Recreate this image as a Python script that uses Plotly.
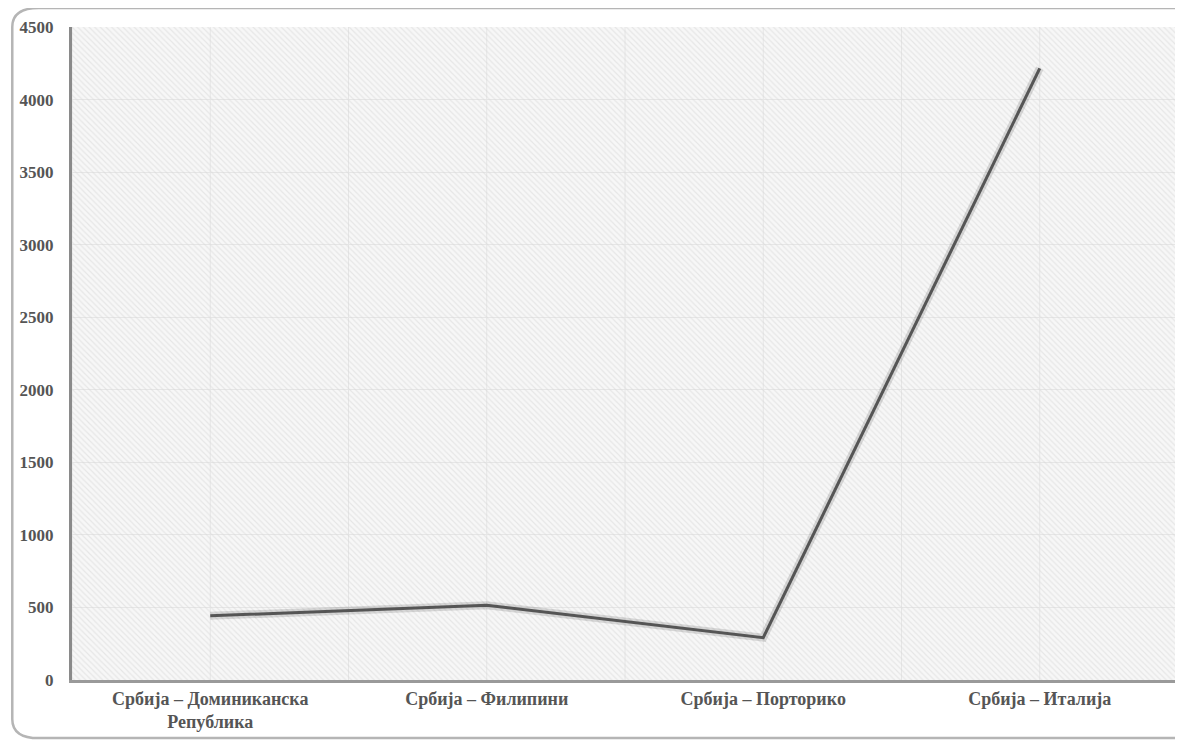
import plotly.graph_objects as go

# data
routes = ['Србија – Доминиканска<br>Република', 'Србија – Филипини',
          'Србија – Порторико', 'Србија – Италија']
values = [442, 515, 292, 4215]
y_ticks = [0, 500, 1000, 1500, 2000, 2500, 3000, 3500, 4000, 4500]

font_main = 'Liberation Serif, Times New Roman, serif'
text_col = '#555555'

fig = go.Figure()

# hatched background of the plot area (hidden base axes, drawn first)
fig.add_trace(go.Scatter(
    x=[0, 1, 1, 0, 0], y=[0, 0, 1, 1, 0],
    mode='lines', line=dict(width=0),
    fill='toself', fillcolor='rgba(0,0,0,0)',
    fillpattern=dict(shape='\\', fgcolor='#d6d6d6', bgcolor='rgba(0,0,0,0)',
                     size=4, solidity=0.3),
    hoverinfo='skip', showlegend=False))

# soft shadow under the line
fig.add_trace(go.Scatter(
    x=routes, y=values, mode='lines', xaxis='x2', yaxis='y2',
    line=dict(color='rgba(0,0,0,0.13)', width=8),
    hoverinfo='skip', showlegend=False))

fig.add_trace(go.Scatter(
    x=routes, y=values, mode='lines', xaxis='x2', yaxis='y2',
    line=dict(color='#555555', width=3),
    showlegend=False))

fig.update_layout(
    width=1183, height=742,
    paper_bgcolor='white', plot_bgcolor='#f7f7f7',
    margin=dict(l=64, r=13, t=19, b=70),
    font=dict(family=font_main, color=text_col),
    xaxis=dict(range=[0, 1], visible=False, showgrid=False, zeroline=False),
    yaxis=dict(range=[0, 1], visible=False, showgrid=False, zeroline=False),
    xaxis2=dict(type='category', range=[-0.5, 3.5], overlaying='x', anchor='y2',
                side='bottom', automargin=False,
                showgrid=False, zeroline=False,
                showline=True, linecolor='#9a9a9a', linewidth=3,
                ticks='', tickfont=dict(size=18, family=font_main, color=text_col,
                                        weight='bold')),
    yaxis2=dict(range=[0, 4500], tickvals=y_ticks, overlaying='y', anchor='x2',
                side='left', automargin=False,
                showgrid=True, gridcolor='#e6e6e6', gridwidth=1,
                zeroline=False, showline=True, linecolor='#8a8a8a', linewidth=3,
                ticks='', ticklabelstandoff=12,
                tickfont=dict(size=17, family=font_main, color=text_col,
                              weight='bold')),
)

# vertical grid lines at category centres and boundaries
for i in range(9):
    fig.add_shape(type='line', xref='x', yref='paper',
                  x0=i / 8, x1=i / 8, y0=0, y1=1,
                  line=dict(color='#e6e6e6', width=1), layer='below')

# rounded card frame
fig.add_shape(type='path', xref='paper', yref='paper',
              path='M -0.054,-0.06 L -0.054,1.0 Q -0.054,1.029 -0.03,1.029 '
                   'L 1.1,1.029 L 1.1,-0.089 L -0.03,-0.089 Q -0.054,-0.089 -0.054,-0.06 Z',
              line=dict(color='#b5b5b5', width=2.5), layer='below')

fig.write_html('out.html')
